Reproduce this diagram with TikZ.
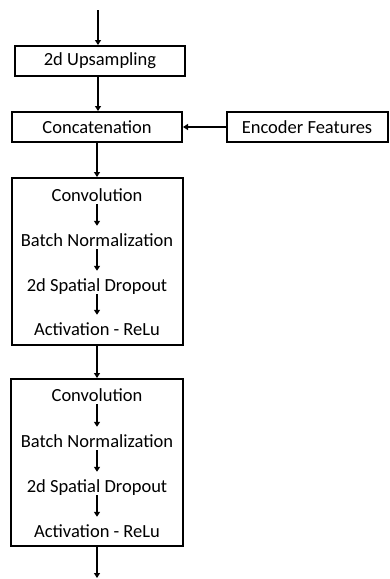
\documentclass[tikz,border=0pt]{standalone}
\usepackage{fontspec}
\setmainfont{Carlito}
\usetikzlibrary{arrows.meta}
\begin{document}
\begin{tikzpicture}[x=1pt,y=-1pt,
  box/.style={draw=black,line width=2pt,rectangle,inner sep=0pt,font=\fontsize{18.5}{22}\selectfont},
  lbl/.style={inner sep=0pt,font=\fontsize{18.5}{22}\selectfont,text height=12pt,text depth=0pt},
  arr/.style={line width=1.7pt,-{Triangle[length=5pt,width=6pt]}}]
\useasboundingbox (0,0) rectangle (389,579);
\coordinate (top) at (98,10);
\coordinate (bot) at (97,578);
\node[box,minimum width=170pt,minimum height=30pt] (up) at (100,61) {2d Upsampling};
\node[box,minimum width=170pt,minimum height=30pt] (cat) at (97,127) {Concatenation};
\node[box,minimum width=161pt,minimum height=30pt] (enc) at (307,127) {Encoder Features};
\node[box,minimum width=171pt,minimum height=167pt] (blk1) at (97.5,261.5) {};
\node[box,minimum width=172pt,minimum height=167pt] (blk2) at (97,462.5) {};
\node[lbl] (c1) at (97,195) {Convolution};
\node[lbl] (b1) at (97,240) {Batch Normalization};
\node[lbl] (d1) at (97,285) {2d Spatial Dropout};
\node[lbl] (a1) at (97,329) {Activation - ReLu};
\node[lbl] (c2) at (97,395) {Convolution};
\node[lbl] (b2) at (97,441) {Batch Normalization};
\node[lbl] (d2) at (97,486) {2d Spatial Dropout};
\node[lbl] (a2) at (97,531) {Activation - ReLu};
\draw[arr] (top) -- (top |- up.north);
\draw[arr] (up.south -| top) -- (cat.north -| top);
\draw[arr] (enc.west) -- (cat.east);
\draw[arr] (cat.south) -- (blk1.north -| cat.south);
\draw[arr] (blk1.south -| bot) -- (blk2.north -| bot);
\draw[arr] (blk2.south -| bot) -- (bot);
\foreach \p/\q in {c1/b1,b1/d1,d1/a1,c2/b2,b2/d2,d2/a2}
  \draw[arr] ([yshift=-3pt]\p.south) -- ([yshift=8pt]\q.north);
\end{tikzpicture}
\end{document}
